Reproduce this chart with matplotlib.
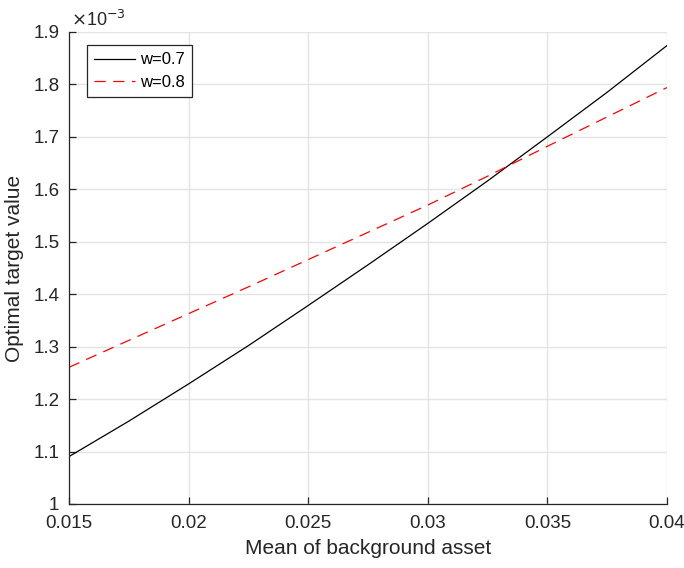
import numpy as np
import matplotlib
matplotlib.use('Agg')
import matplotlib.pyplot as plt
from matplotlib.ticker import FuncFormatter

plt.rcParams['font.family'] = ['Liberation Sans', 'DejaVu Sans']

# mean of background asset
mu = [0.015, 0.0175, 0.02, 0.0225, 0.025, 0.0275, 0.03, 0.0325, 0.035, 0.0375, 0.04]
# optimal target value (x 1e-3)
w07 = [1.0905, 1.158, 1.229, 1.302, 1.3785, 1.456, 1.535, 1.616, 1.700, 1.785, 1.874]
w08 = [1.2607, 1.312, 1.363, 1.414, 1.466, 1.518, 1.570, 1.625, 1.682, 1.738, 1.794]
labels = ['w=0.7', 'w=0.8']

fig = plt.figure(figsize=(6.84, 5.68), dpi=100)
ax = fig.add_axes([0.101, 0.1127, 0.874, 0.831])

ax.plot(mu, np.array(w07) * 1e-3, color='black', lw=0.9, label=labels[0])
ax.plot(mu, np.array(w08) * 1e-3, color='#ff0000', lw=0.9, ls=(0, (9, 6)), label=labels[1])

ax.set_xlim(0.015, 0.04)
ax.set_ylim(1.0e-3, 1.9e-3)
ax.set_xticks([0.015, 0.02, 0.025, 0.03, 0.035, 0.04])
ax.set_yticks(np.arange(10, 20) * 1e-4)
ax.xaxis.set_major_formatter(FuncFormatter(lambda v, p: '%g' % round(v, 4)))
ax.yaxis.set_major_formatter(FuncFormatter(lambda v, p: '%g' % round(v * 1e3, 2)))

ax.grid(True, color='#e3e3e3', lw=1)
ax.set_axisbelow(True)
for s in ['top', 'right']:
    ax.spines[s].set_visible(False)
for s in ['left', 'bottom']:
    ax.spines[s].set_color('#262626')
    ax.spines[s].set_linewidth(0.9)
ax.tick_params(direction='in', length=5, width=0.9, color='#262626',
               labelsize=13.5, labelcolor='#262626')
ax.tick_params(axis='x', pad=8)
ax.tick_params(axis='y', pad=7)

ax.set_xlabel('Mean of background asset', fontsize=15, color='#262626', labelpad=5)
ax.set_ylabel('Optimal target value', fontsize=15, color='#262626', labelpad=7)
ax.text(0.003, 1.005, r'$\times$10$^{-3}$', transform=ax.transAxes, fontsize=13,
        color='#262626', ha='left', va='bottom')

leg = ax.legend(loc='upper left', bbox_to_anchor=(0.0296, 0.9725), fontsize=12,
                fancybox=False, framealpha=1, edgecolor='#262626',
                handlelength=2.45, handletextpad=0.3, borderpad=0.45,
                labelspacing=0.45, borderaxespad=0)
leg.get_frame().set_linewidth(0.9)

fig.savefig('out.png', dpi=100, facecolor='white')
